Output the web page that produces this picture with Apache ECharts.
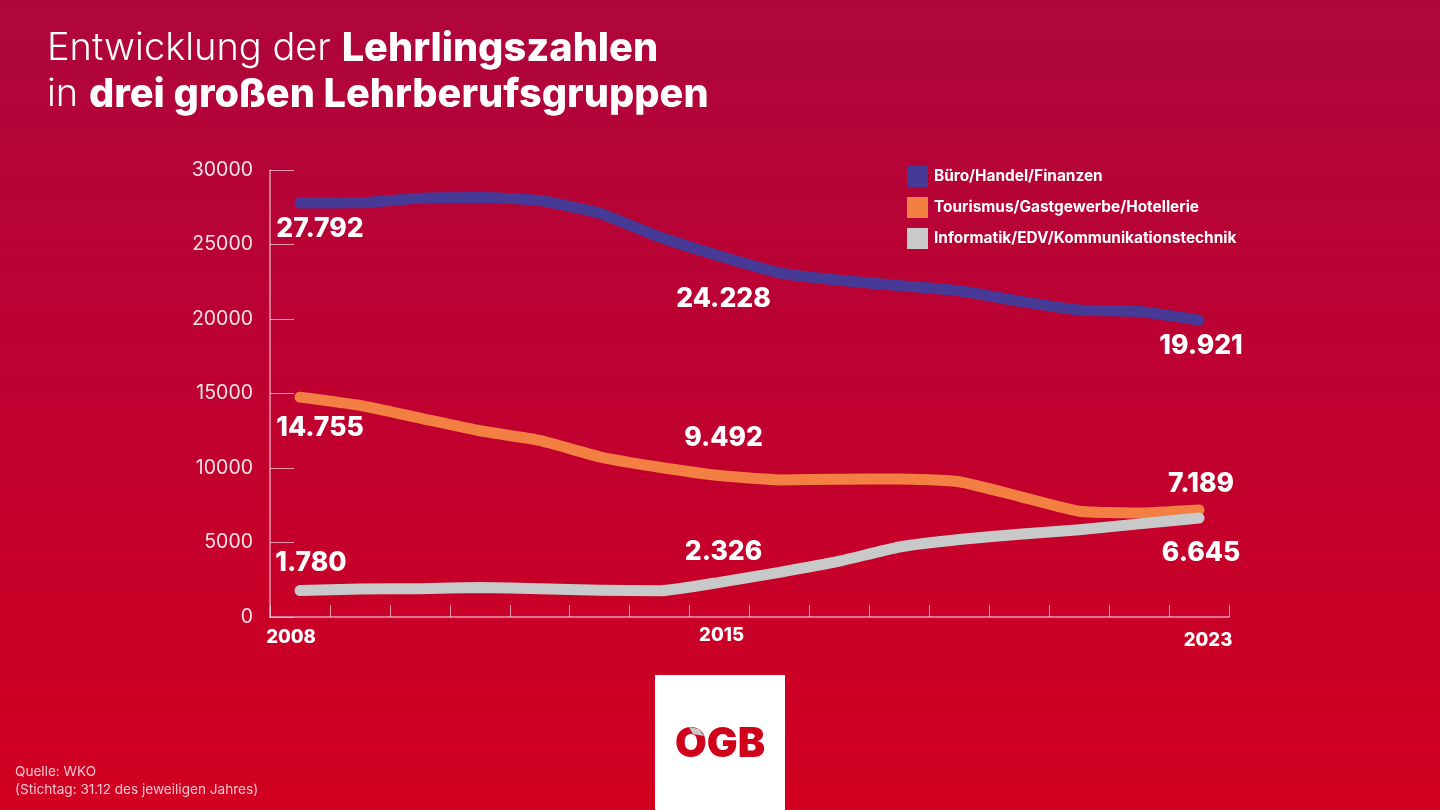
<!DOCTYPE html>
<html>
<head>
<meta charset="utf-8">
<title>Lehrlingszahlen</title>
<script src="https://cdn.jsdelivr.net/npm/echarts@6/dist/echarts.min.js"></script>
<style>
html, body { margin: 0; padding: 0; background: #c00030; }
#chart { width: 1440px; height: 810px; }
</style>
</head>
<body>
<div id="chart"></div>
<script>
// Jahre
var categories = ['2008', '2009', '2010', '2011', '2012', '2013', '2014', '2015',
    '2016', '2017', '2018', '2019', '2020', '2021', '2022', '2023'];
var yearLabels = ['2008', '2015', '2023'];

// Lehrlinge je Gruppe
var seriesNames = ['Büro/Handel/Finanzen', 'Tourismus/Gastgewerbe/Hotellerie', 'Informatik/EDV/Kommunikationstechnik'];
var buero = [27792, 27800, 28100, 28150, 27950, 27100, 25500, 24228, 23100, 22600, 22250, 21900, 21200, 20600, 20500, 19921];
var tourismus = [14755, 14200, 13350, 12500, 11850, 10750, 10050, 9492, 9200, 9250, 9270, 9080, 8100, 7100, 6980, 7189];
var informatik = [1780, 1880, 1900, 1980, 1900, 1800, 1760, 2326, 3000, 3750, 4700, 5200, 5550, 5850, 6250, 6645];

var font = 'Inter';
var white = '#ffffff';

// 27792 -> 27.792
function fmt(v) {
    return String(v).replace(/\B(?=(\d{3})+$)/g, '.');
}

// Linie mit Werten an den drei beschrifteten Jahren
function makeSeries(name, values, color, offsets) {
    return {
        name: name,
        type: 'line',
        smooth: 0.15,
        symbol: 'circle',
        symbolSize: 1,
        showSymbol: true,
        showAllSymbol: true,
        lineStyle: { color: color, width: 11, cap: 'round', join: 'round' },
        itemStyle: { color: color },
        data: values.map(function (v, i) {
            var k = yearLabels.indexOf(categories[i]);
            if (k < 0) return v;
            return {
                value: v,
                label: {
                    show: true,
                    position: 'inside',
                    offset: offsets[k],
                    formatter: fmt(v),
                    color: white,
                    fontFamily: font,
                    fontWeight: 800,
                    fontSize: 26.5
                }
            };
        })
    };
}

var chart = echarts.init(document.getElementById('chart'));
var option = {
    animation: false,
    backgroundColor: {
        type: 'linear', x: 0, y: 0, x2: 0, y2: 1,
        colorStops: [
            { offset: 0, color: '#ae063c' },
            { offset: 0.5, color: '#bf0030' },
            { offset: 1, color: '#d20020' }
        ]
    },
    title: {
        left: 42,
        top: 21,
        text: '{a|Entwicklung der }{b|Lehrlingszahlen}\n{a|in }{b|drei großen Lehrberufsgruppen}',
        textStyle: {
            rich: {
                a: { color: white, fontFamily: font, fontWeight: 300, fontSize: 38, lineHeight: 46 },
                b: { color: white, fontFamily: font, fontWeight: 800, fontSize: 39.7, lineHeight: 46 }
            }
        }
    },
    legend: {
        orient: 'vertical',
        left: 902,
        top: 161,
        itemWidth: 21,
        itemHeight: 21,
        itemGap: 10,
        icon: 'rect',
        textStyle: { color: white, fontFamily: font, fontWeight: 700, fontSize: 15.4, padding: [2, 0, 0, 1] },
        data: seriesNames
    },
    grid: { left: 270, right: 211, top: 170, bottom: 193 },
    xAxis: {
        type: 'category',
        data: categories,
        boundaryGap: true,
        axisLine: { lineStyle: { color: 'rgba(255,255,255,0.6)', width: 1.5 } },
        axisTick: { show: true, inside: true, length: 12, interval: 0, lineStyle: { color: 'rgba(255,255,255,0.6)', width: 1 } },
        axisLabel: {
            interval: 0,
            margin: 9,
            formatter: function (v) {
                if (yearLabels.indexOf(v) < 0) return '';
                return '{y' + v + '|' + v + '}';
            },
            rich: {
                y2008: { color: white, fontFamily: font, fontWeight: 800, fontSize: 18.5, padding: [2, 18, 0, 0] },
                y2015: { color: white, fontFamily: font, fontWeight: 800, fontSize: 18.5, padding: [0, 0, 0, 4] },
                y2023: { color: white, fontFamily: font, fontWeight: 800, fontSize: 18.5, padding: [5, 0, 0, 18] }
            }
        },
        splitLine: { show: false }
    },
    yAxis: {
        type: 'value',
        min: 0,
        max: 30000,
        interval: 5000,
        axisLine: { show: true, lineStyle: { color: 'rgba(255,255,255,0.6)', width: 1.5 } },
        axisTick: { show: true, inside: true, length: 24, lineStyle: { color: 'rgba(255,255,255,0.6)', width: 1 } },
        axisLabel: {
            color: '#f5e4e8', fontFamily: font, fontWeight: 400, fontSize: 19.5, margin: 17,
            formatter: function (v) { return String(v); }
        },
        splitLine: { show: false }
    },
    series: [
        makeSeries(seriesNames[0], buero, '#473a97', [[20, 26], [4, 43], [2, 26]]),
        makeSeries(seriesNames[1], tourismus, '#f47f43', [[20, 31], [4, -38], [2, -26]]),
        makeSeries(seriesNames[2], informatik, '#c8c9c9', [[11, -27], [4, -30], [2, 35]])
    ],
    graphic: [
        { type: 'rect', shape: { x: 655, y: 675, width: 130, height: 135 }, style: { fill: '#ffffff' } },
        { type: 'text', x: 720, y: 745, style: { text: 'OGB', fill: '#d0021b', font: '900 41px Inter', textAlign: 'center', textVerticalAlign: 'middle' } },
        { type: 'polygon', shape: { points: [[689, 727], [699, 729], [704, 736], [693, 734]] }, style: { fill: '#c8c9c9' } },
        { type: 'text', x: 15, y: 772, style: { text: 'Quelle: WKO', fill: '#f3c6cf', font: '400 13.6px Inter', textVerticalAlign: 'middle' } },
        { type: 'text', x: 15, y: 790, style: { text: '(Stichtag: 31.12 des jeweiligen Jahres)', fill: '#f3c6cf', font: '400 13.6px Inter', textVerticalAlign: 'middle' } }
    ]
};
chart.setOption(option);
</script>
</body>
</html>
